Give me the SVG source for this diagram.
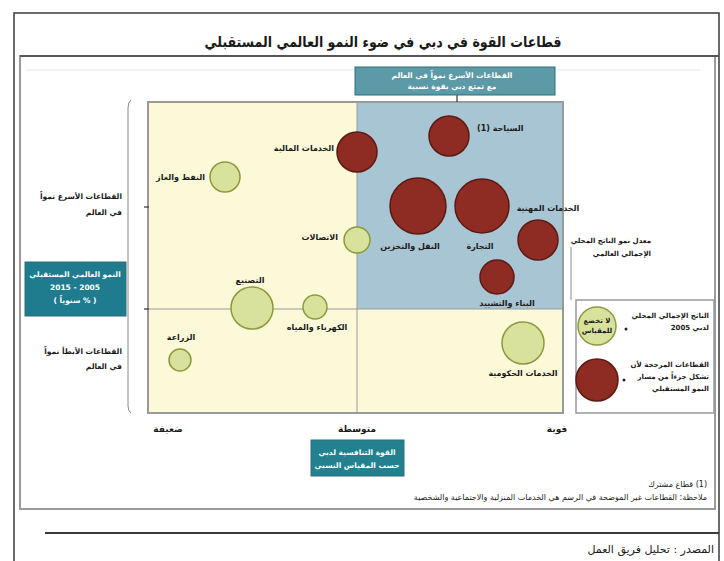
<svg xmlns="http://www.w3.org/2000/svg" width="724" height="561" viewBox="0 0 724 561">
<defs>
<style>
text { font-family: "DejaVu Sans", "Noto Sans", sans-serif; direction: rtl; fill: #1a1a1a; }
.t { font-size: 15px; font-weight: bold; }
.lb { font-size: 8px; font-weight: bold; }
.ax { font-size: 9px; font-weight: bold; }
.sm { font-size: 7.5px; font-weight: bold; }
.lg { font-size: 7px; font-weight: bold; }
.fn { font-size: 8px; }
.wt { font-size: 7.5px; fill: #ffffff; font-weight: bold; }
.red { fill: #8e2b23; stroke: #5c1a14; stroke-width: 1.5; }
.grn { fill: #d8e29c; stroke: #8c9a3c; stroke-width: 1.5; }
.frame { fill: none; stroke: #9a9a9a; stroke-width: 2; }
.thin { fill: none; stroke: #8a8a8a; stroke-width: 1; }
.box { stroke: #2d6f7d; stroke-width: 1; }
</style>
</defs>
<rect x="0" y="0" width="724" height="561" fill="#ffffff"/>

<!-- outer frame -->
<g id="frame">
<path d="M14,561 V13 H719 V561" fill="none" stroke="#3a3a3a" stroke-width="1.5"/>
<rect x="20" y="56" width="695" height="453" class="frame"/>
<line x1="20" y1="56" x2="719" y2="56" stroke="#555" stroke-width="2"/>
<line x1="26" y1="70" x2="700" y2="70" stroke="#e6e6e6" stroke-width="1"/>
<line x1="45" y1="533" x2="719" y2="533" stroke="#3a3a3a" stroke-width="2"/>
</g>

<g id="title">
<text class="t" x="383" y="47" text-anchor="middle" textLength="357" lengthAdjust="spacingAndGlyphs">قطاعات القوة في دبي في ضوء النمو العالمي المستقبلي</text>
</g>

<!-- plot -->
<g id="plot">
<rect x="148" y="102" width="415" height="311" fill="#fcf9d9"/>
<rect x="357" y="102" width="206" height="207" fill="#a8c5d3"/>
<line x1="148" y1="309" x2="563" y2="309" stroke="#9a9a9a" stroke-width="1"/>
<line x1="357" y1="102" x2="357" y2="413" stroke="#9a9a9a" stroke-width="1"/>
<rect x="148" y="102" width="415" height="311" class="frame"/>
</g>

<!-- connectors / axis -->
<g id="connectors">
<path d="M131,100 Q128,102 128,108 V406 Q128,411 131,413" class="thin"/>
<line x1="144" y1="207" x2="149" y2="207" stroke="#333" stroke-width="1.2"/>
<line x1="144" y1="309" x2="149" y2="309" stroke="#333" stroke-width="1.2"/>
<line x1="457" y1="95" x2="457" y2="102" stroke="#333" stroke-width="1.2"/>
<line x1="571" y1="247" x2="571" y2="300" class="thin"/>
</g>

<!-- axis labels -->
<g id="y-fast">
<text class="sm" x="122" y="199" text-anchor="start">القطاعات الأسرع نمواً</text>
<text class="sm" x="122" y="215" text-anchor="start">في العالم</text>
</g>
<g id="y-slow">
<text class="sm" x="122" y="354" text-anchor="start">القطاعات الأبطأ نمواً</text>
<text class="sm" x="122" y="369" text-anchor="start">في العالم</text>
</g>
<g id="y-box">
<rect x="25" y="262" width="101" height="54" fill="#1f7b8e" class="box"/>
<text class="wt" x="75" y="277" text-anchor="middle" font-size="7">النمو العالمي المستقبلي</text>
<text class="wt" x="75" y="290" text-anchor="middle">2005 - 2015</text>
<text class="wt" x="75" y="303" text-anchor="middle">( % سنوياً )</text>
</g>
<g id="top-box">
<rect x="355" y="67" width="200" height="28" fill="#5b9aa6" class="box"/>
<text class="wt" x="452" y="78" text-anchor="middle">القطاعات الأسرع نمواً في العالم</text>
<text class="wt" x="452" y="89" text-anchor="middle">مع تمتع دبي بقوة نسبية</text>
</g>
<g id="x-labels">
<text class="ax" x="168" y="432" text-anchor="middle">ضعيفة</text>
<text class="ax" x="357" y="432" text-anchor="middle">متوسطة</text>
<text class="ax" x="557" y="432" text-anchor="middle">قوية</text>
</g>
<g id="x-box">
<rect x="311" y="440" width="93" height="36" fill="#23808f" class="box"/>
<text class="wt" x="357" y="455" text-anchor="middle">القوة التنافسية لدبي</text>
<text class="wt" x="357" y="468" text-anchor="middle">حسب المقياس النسبي</text>
</g>
<g id="gdp-label">
<text class="lg" x="651" y="243" text-anchor="start">معدل نمو الناتج المحلي</text>
<text class="lg" x="651" y="256" text-anchor="start">الإجمالي العالمي</text>
</g>

<!-- bubbles -->
<g id="financial">
<circle cx="357" cy="152" r="20" class="red"/>
<text class="lb" x="334" y="151" text-anchor="start">الخدمات المالية</text>
</g>
<g id="tourism">
<circle cx="449" cy="136" r="20" class="red"/>
<text class="lb" x="477" y="131" text-anchor="end">السياحة (1)</text>
</g>
<g id="transport">
<circle cx="418" cy="206" r="28" class="red"/>
<text class="lb" x="410" y="249" text-anchor="middle">النقل والتخزين</text>
</g>
<g id="trade">
<circle cx="482" cy="206" r="27" class="red"/>
<text class="lb" x="480" y="249" text-anchor="middle">التجارة</text>
</g>
<g id="professional">
<circle cx="538" cy="240" r="20" class="red"/>
<text class="lb" x="548" y="211" text-anchor="middle">الخدمات المهنية</text>
</g>
<g id="construction">
<circle cx="497" cy="277" r="17" class="red"/>
<text class="lb" x="507" y="306" text-anchor="middle">البناء والتشييد</text>
</g>
<g id="telecom">
<circle cx="357" cy="240" r="13" class="grn"/>
<text class="lb" x="338" y="240" text-anchor="start">الاتصالات</text>
</g>
<g id="oilgas">
<circle cx="225" cy="177" r="15" class="grn"/>
<text class="lb" x="205" y="180" text-anchor="start">النفط والغاز</text>
</g>
<g id="manufacturing">
<circle cx="252" cy="308" r="21" class="grn"/>
<text class="lb" x="250" y="283" text-anchor="middle">التصنيع</text>
</g>
<g id="utilities">
<circle cx="315" cy="307" r="12" class="grn"/>
<text class="lb" x="317" y="330" text-anchor="middle">الكهرباء والمياه</text>
</g>
<g id="agriculture">
<circle cx="180" cy="360" r="11" class="grn"/>
<text class="lb" x="181" y="340" text-anchor="middle">الزراعة</text>
</g>
<g id="government">
<circle cx="523" cy="343" r="21" class="grn"/>
<text class="lb" x="523" y="376" text-anchor="middle">الخدمات الحكومية</text>
</g>

<!-- legend -->
<g id="legend">
<rect x="576" y="300" width="138" height="113" fill="#ffffff" stroke="#9a9a9a" stroke-width="1.5"/>
<circle cx="597" cy="326" r="19" class="grn"/>
<text x="597" y="323" text-anchor="middle" font-size="7" font-weight="bold">لا تخضع</text>
<text x="597" y="333" text-anchor="middle" font-size="7" font-weight="bold">للمقياس</text>
<circle cx="626" cy="329" r="1.5" fill="#222"/>
<text class="lg" x="709" y="318" text-anchor="start">الناتج الإجمالي المحلي</text>
<text class="lg" x="709" y="330" text-anchor="start">لدبي 2005</text>
<circle cx="597" cy="380" r="21" class="red"/>
<circle cx="624" cy="380" r="1.5" fill="#222"/>
<text class="lg" x="709" y="367" text-anchor="start">القطاعات المرجحة لأن</text>
<text class="lg" x="709" y="379" text-anchor="start">تشكل جزءاً من مسار</text>
<text class="lg" x="709" y="391" text-anchor="start">النمو المستقبلي</text>
</g>

<!-- footnotes -->
<g id="footnotes">
<text class="fn" x="707" y="487" text-anchor="start">(1) قطاع مشترك</text>
<text class="fn" x="707" y="500" text-anchor="start">ملاحظة: القطاعات غير الموضحة في الرسم هي الخدمات المنزلية والاجتماعية والشخصية</text>
</g>
<g id="source">
<text x="714" y="553" text-anchor="start" font-size="11">المصدر : تحليل فريق العمل</text>
</g>
</svg>
